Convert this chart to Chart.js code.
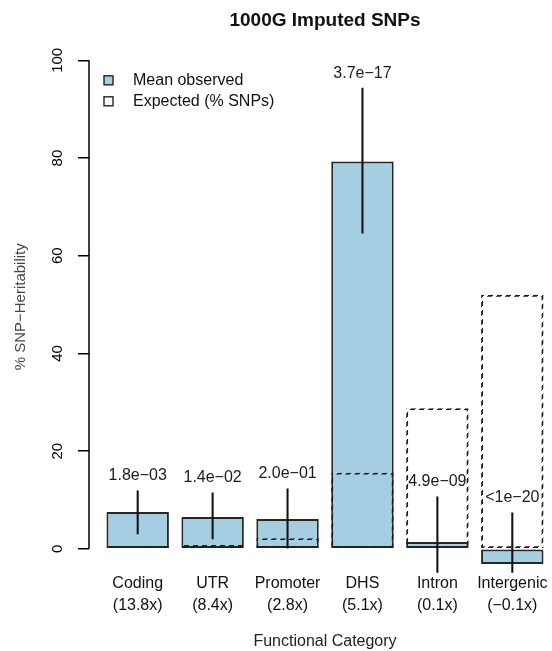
<!DOCTYPE html>
<html>
<head>
<meta charset="utf-8">
<title>1000G Imputed SNPs</title>
<script src="https://cdn.jsdelivr.net/npm/chart.js@4.4.1/dist/chart.umd.min.js"></script>
<style>
  html, body { margin: 0; padding: 0; overflow: hidden; background: #ffffff; }
  canvas { display: block; }
</style>
</head>
<body>
<canvas id="chart" width="561" height="651"></canvas>
<script>
// Functional categories and their enrichment (observed / expected)
const categories = ['Coding', 'UTR', 'Promoter', 'DHS', 'Intron', 'Intergenic'];
const enrichment = ['(13.8x)', '(8.4x)', '(2.8x)', '(5.1x)', '(0.1x)', '(\u22120.1x)'];

// % of SNP-heritability explained by each category
const meanObserved = [7.57, 6.54, 6.13, 79.3, 1.43, -3.1];
// % of SNPs falling in each category
const expectedPct = [0.55, 0.78, 2.19, 15.6, 28.8, 52.0];
// Standard-error bars around the observed mean
const errLow = [3.07, 2.04, 0.0, 64.6, -7.8, -13.5];
const errHigh = [11.86, 11.45, 12.27, 94.3, 10.63, 7.36];
// Enrichment p-values printed above each bar
const pValues = ['1.8e\u221203', '1.4e\u221202', '2.0e\u221201', '3.7e\u221217', '4.9e\u221209', '<1e\u221220'];

const yTicks = [0, 20, 40, 60, 80, 100];

const FONT = "'Liberation Sans', Arial, Helvetica, sans-serif";
Chart.defaults.font.family = FONT;

const canvas = document.getElementById('chart');
const ctx = canvas.getContext('2d');

// Diagonal tile: every horizontal or vertical 1px line through it reads as a dash pattern
function dashPattern(color) {
  const tile = document.createElement('canvas');
  tile.width = 9; tile.height = 9;
  const g = tile.getContext('2d');
  g.fillStyle = color;
  for (let y = 0; y < 9; y++) {
    for (let x = 0; x < 9; x++) {
      if ((x + y) % 9 < 5) g.fillRect(x, y, 1, 1);
    }
  }
  return ctx.createPattern(tile, 'repeat');
}

const barFill = '#A6CEE3';
const barEdge = '#262626';

// y-axis line spanning the tick range only, p-value labels and the legend
const decorations = {
  id: 'decorations',
  afterDatasetsDraw(chart) {
    const c = chart.ctx;
    const y = chart.scales.y;
    const area = chart.chartArea;

    // axis line from first to last tick
    c.save();
    c.strokeStyle = '#000';
    c.lineWidth = 1.5;
    c.beginPath();
    c.moveTo(area.left, y.getPixelForValue(yTicks[0]));
    c.lineTo(area.left, y.getPixelForValue(yTicks[yTicks.length - 1]));
    c.stroke();
    c.restore();

    // p-values above the error bars
    const meta = chart.getDatasetMeta(0);
    c.save();
    c.font = '16px ' + FONT;
    c.fillStyle = '#1a1a1a';
    c.textAlign = 'center';
    c.textBaseline = 'middle';
    meta.data.forEach((el, i) => {
      const p = el.getProps(['x', 'y', 'base'], true);
      const top = Math.min(p.y, p.base);
      c.fillText(pValues[i], p.x, top - 15);
    });
    c.restore();

    // legend
    const items = [chart.data.datasets[2], chart.data.datasets[1]];
    c.save();
    c.font = '16px ' + FONT;
    c.textBaseline = 'middle';
    c.textAlign = 'left';
    items.forEach((ds, k) => {
      const cy = area.top + 39.5 + k * 21;
      const bx = area.left + 15;
      c.fillStyle = k === 0 ? barFill : '#ffffff';
      c.fillRect(bx, cy - 4.5, 9, 9);
      c.strokeStyle = '#222';
      c.lineWidth = 1.4;
      c.strokeRect(bx, cy - 4.5, 9, 9);
      c.fillStyle = '#111';
      c.fillText(ds.label, area.left + 44, cy);
    });
    c.restore();
  }
};

new Chart(ctx, {
  type: 'bar',
  data: {
    datasets: [
      {
        label: 'Standard error',
        data: categories.map((c, i) => ({ x: i, y: [errLow[i], errHigh[i]] })),
        backgroundColor: '#111111',
        borderWidth: 0,
        barThickness: 1.4,
        grouped: false,
        clip: 0,
        order: 0
      },
      {
        label: 'Expected (% SNPs)',
        data: categories.map((c, i) => ({ x: i, y: expectedPct[i] })),
        backgroundColor: 'rgba(0,0,0,0)',
        borderColor: dashPattern('#1e1e1e'),
        borderWidth: 1.9,
        borderSkipped: false,
        grouped: false,
        categoryPercentage: 1,
        barPercentage: 1 / 1.2,
        order: 1
      },
      {
        label: 'Mean observed',
        data: categories.map((c, i) => ({ x: i, y: meanObserved[i] })),
        backgroundColor: barFill,
        borderColor: barEdge,
        borderWidth: 2,
        borderSkipped: false,
        grouped: false,
        categoryPercentage: 1,
        barPercentage: 1 / 1.2,
        order: 2
      }
    ]
  },
  options: {
    responsive: false,
    animation: false,
    devicePixelRatio: 1,
    layout: { padding: { left: 0, right: 0, top: 0, bottom: 0 } },
    plugins: {
      legend: { display: false },
      tooltip: { enabled: false },
      title: {
        display: true,
        fullSize: false,
        text: '1000G Imputed SNPs',
        color: '#111',
        font: { size: 19, weight: 'bold' },
        padding: { top: 9, bottom: 9 }
      }
    },
    scales: {
      x: {
        type: 'linear',
        min: -0.65,
        max: 5.65,
        offset: false,
        grid: { display: false, drawTicks: false },
        border: { display: false },
        afterBuildTicks: (s) => { s.ticks = categories.map((c, i) => ({ value: i })); },
        ticks: {
          autoSkip: false,
          maxRotation: 0,
          padding: 0,
          color: '#111',
          font: { size: 16, lineHeight: 1.375 },
          callback: (v, i) => [categories[i], enrichment[i]]
        },
        title: {
          display: true,
          text: 'Functional Category',
          color: '#222',
          font: { size: 16 },
          padding: { top: 15, bottom: 0 }
        }
      },
      y: {
        min: -4.9,
        max: 104,
        afterBuildTicks: (s) => { s.ticks = yTicks.map((v) => ({ value: v })); },
        grid: { drawOnChartArea: false, drawTicks: true, tickLength: 11, color: '#000', lineWidth: 1.5 },
        border: { display: false },
        ticks: {
          minRotation: 90,
          maxRotation: 90,
          crossAlign: 'center',
          padding: 8,
          color: '#000',
          font: { size: 15 },
          callback: (v) => String(v)
        },
        title: {
          display: true,
          text: '% SNP\u2212Heritability',
          color: '#444',
          font: { size: 15 },
          padding: { top: 12, bottom: 14 }
        }
      }
    }
  },
  plugins: [decorations]
});
</script>
</body>
</html>
